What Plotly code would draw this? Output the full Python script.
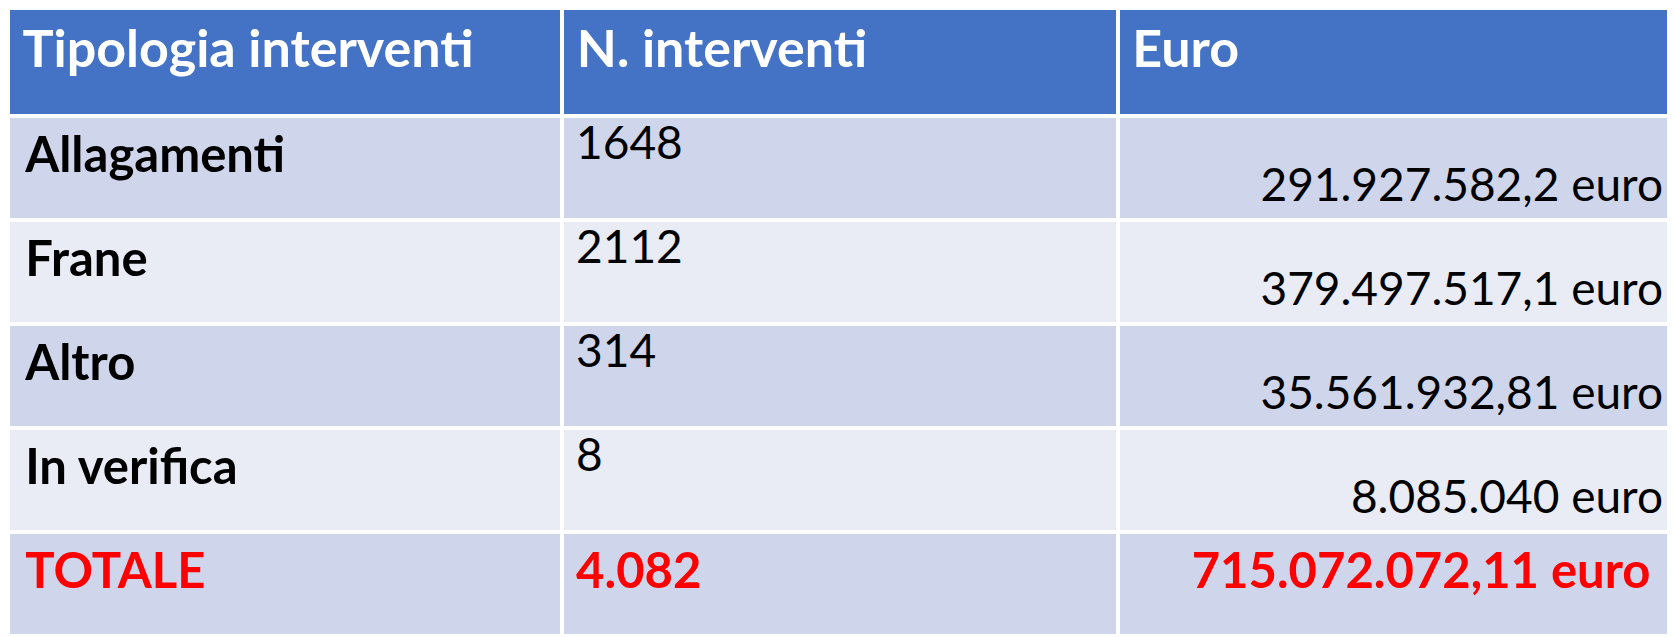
import plotly.graph_objects as go

headers = ["Tipologia interventi", "N. interventi", "Euro"]
categories = ["Allagamenti", "Frane", "Altro", "In verifica"]
n_interventi = ["1648", "2112", "314", "8"]
euro = ["291.927.582,2 euro", "379.497.517,1 euro", "35.561.932,81 euro", "8.085.040 euro"]
total_label = "TOTALE"
total_n = "4.082"
total_euro = "715.072.072,11 euro"

FONT = "Lato"
HEAD_BG = "#4472C4"
ROW_A = "#CFD5EA"
ROW_B = "#E9EBF5"
RED = "#FF0000"
LPAD = "\u2009"

col1 = [LPAD + "\u200a<b>%s</b>" % c for c in categories] + [LPAD + "\u200a<b>%s</b>" % total_label]
col2 = [LPAD + n for n in n_interventi] + \
       [LPAD + "<span style='font-size:49px'><b>%s</b></span><br>" % total_n]
col3 = ["\u00a0<br><span style='font-size:46px'>%s</span>" % e for e in euro] + \
       ["<span style='font-size:49px'><b>%s</b>\u00a0</span><br>" % total_euro]

n_cat = len(categories)
n_rows = n_cat + 1
row_fill = [ROW_A if i % 2 == 0 else ROW_B for i in range(n_rows)]
row_font = ["black"] * n_cat + [RED]

fig = go.Figure(go.Table(
    domain=dict(x=[0, 1663 / 1675], y=[0, 1]),
    columnwidth=[551, 552, 550],
    header=dict(
        values=[LPAD + "<b>%s</b>" % h for h in headers],
        fill_color=HEAD_BG,
        line=dict(color="white", width=4),
        align="left",
        height=108,
        font=dict(family=FONT, size=52, color="white"),
    ),
    cells=dict(
        values=[col1, col2, col3],
        fill_color=[row_fill] * 3,
        line=dict(color="white", width=4),
        align=["left", "left", "right"],
        height=104,
        font=dict(family=FONT, size=[49, 46, 33.5], color=[row_font] * 3),
    ),
))

fig.update_layout(
    width=1675, height=637,
    margin=dict(l=0, r=0, t=0, b=0),
    paper_bgcolor="white",
)

fig.write_html("out.html")
